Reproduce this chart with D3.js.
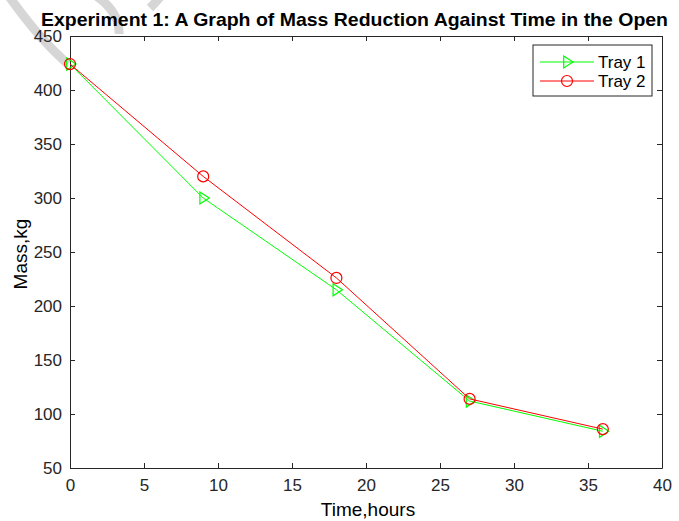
<!DOCTYPE html>
<html>
<head>
<meta charset="utf-8">
<script src="https://cdn.jsdelivr.net/npm/d3@7"></script>
<style>
  body { margin: 0; background: #fff; }
  text { font-family: "Liberation Sans", Arial, sans-serif; }
</style>
</head>
<body>
<script>
// datos
const hours = [0, 9, 18, 27, 36];
const tray1 = [424, 300, 215, 112, 84];
const tray2 = [424, 320, 226, 114, 86];
const xTicks = [0, 5, 10, 15, 20, 25, 30, 35, 40];
const yTicks = [50, 100, 150, 200, 250, 300, 350, 400, 450];
const seriesNames = ["Tray 1", "Tray 2"];

const W = 679, H = 521;
const margin = { top: 36, right: 17, bottom: 53, left: 70 };
const width = W - margin.left - margin.right;
const height = H - margin.top - margin.bottom;

const root = d3.select("body").append("svg")
    .attr("width", W)
    .attr("height", H);

// marca de agua gris
const wm = root.append("g").attr("fill", "none").attr("stroke", "#d6d6d6").attr("stroke-width", 9);
wm.append("path").attr("d", "M 8 -5 Q 40 40 68 64");
wm.append("path").attr("d", "M 95 -5 Q 120 12 119 34");
wm.append("path").attr("d", "M 162 -5 Q 156 2 150 8");

const svg = root.append("g")
    .attr("transform", "translate(" + margin.left + "," + margin.top + ")");

const x = d3.scaleLinear().domain([0, 40]).range([0, width]);
const y = d3.scaleLinear().domain([50, 450]).range([height, 0]);

const axisColor = "#262626";

// ejes con marcas hacia dentro (estilo MATLAB)
const styleAxis = g => {
    g.select(".domain").attr("stroke", axisColor);
    g.selectAll(".tick line").attr("stroke", axisColor);
    g.selectAll(".tick text").attr("fill", axisColor).attr("font-size", "17px")
        .attr("font-family", "'Liberation Sans', Arial, sans-serif");
};

svg.append("g")
    .attr("transform", "translate(0," + height + ")")
    .call(d3.axisBottom(x).tickValues(xTicks).tickSizeInner(-5).tickSizeOuter(0).tickPadding(11))
    .call(styleAxis);

svg.append("g")
    .call(d3.axisLeft(y).tickValues(yTicks).tickSizeInner(-5).tickSizeOuter(0).tickPadding(8))
    .call(styleAxis);

svg.append("g")
    .call(d3.axisTop(x).tickValues(xTicks).tickSizeInner(-5).tickSizeOuter(0).tickFormat(""))
    .call(styleAxis);

svg.append("g")
    .attr("transform", "translate(" + width + ",0)")
    .call(d3.axisRight(y).tickValues(yTicks).tickSizeInner(-5).tickSizeOuter(0).tickFormat(""))
    .call(styleAxis);

// lineas
const line = d3.line().x((d, i) => x(hours[i])).y(d => y(d));

const triangle = (cx, cy, s) =>
    `M ${cx - s * 0.55} ${cy - s} L ${cx + s} ${cy} L ${cx - s * 0.55} ${cy + s} Z`;

svg.append("path").datum(tray1)
    .attr("d", line).attr("fill", "none").attr("stroke", "#00ff00").attr("stroke-width", 1);
svg.selectAll(".t1").data(tray1).enter().append("path")
    .attr("class", "t1")
    .attr("d", (d, i) => triangle(x(hours[i]), y(d), 6))
    .attr("fill", "none").attr("stroke", "#00ff00").attr("stroke-width", 1.2);

svg.append("path").datum(tray2)
    .attr("d", line).attr("fill", "none").attr("stroke", "#ff0000").attr("stroke-width", 1);
svg.selectAll(".t2").data(tray2).enter().append("circle")
    .attr("class", "t2")
    .attr("cx", (d, i) => x(hours[i])).attr("cy", d => y(d)).attr("r", 5.5)
    .attr("fill", "none").attr("stroke", "#ff0000").attr("stroke-width", 1.2);

// leyenda
const leg = svg.append("g").attr("transform", "translate(" + (533 - margin.left) + "," + (45 - margin.top) + ")");
leg.append("rect").attr("width", 119).attr("height", 51)
    .attr("fill", "#fff").attr("stroke", axisColor).attr("stroke-width", 1);
const colors = ["#00ff00", "#ff0000"];
seriesNames.forEach((name, i) => {
    const ly = 17 + i * 19;
    leg.append("line").attr("x1", 7).attr("x2", 61).attr("y1", ly).attr("y2", ly)
        .attr("stroke", colors[i]).attr("stroke-width", 1);
    if (i === 0) {
        leg.append("path").attr("d", triangle(34, ly, 6))
            .attr("fill", "none").attr("stroke", colors[i]).attr("stroke-width", 1.2);
    } else {
        leg.append("circle").attr("cx", 34).attr("cy", ly).attr("r", 5.5)
            .attr("fill", "none").attr("stroke", colors[i]).attr("stroke-width", 1.2);
    }
    leg.append("text").attr("x", 65).attr("y", ly + 6).text(name)
        .attr("font-size", "17px").attr("fill", "#000");
});

// titulo y etiquetas
root.append("text")
    .attr("x", 41).attr("y", 26)
    .attr("font-size", "19px").attr("font-weight", "bold")
    .attr("textLength", 627).attr("lengthAdjust", "spacingAndGlyphs")
    .text("Experiment 1: A Graph of Mass Reduction Against Time in the Open");

root.append("text")
    .attr("x", 368).attr("y", 516)
    .attr("text-anchor", "middle")
    .attr("font-size", "19px")
    .text("Time,hours");

root.append("text")
    .attr("transform", "translate(27,254) rotate(-90)")
    .attr("text-anchor", "middle")
    .attr("font-size", "19px")
    .text("Mass,kg");
</script>
</body>
</html>
